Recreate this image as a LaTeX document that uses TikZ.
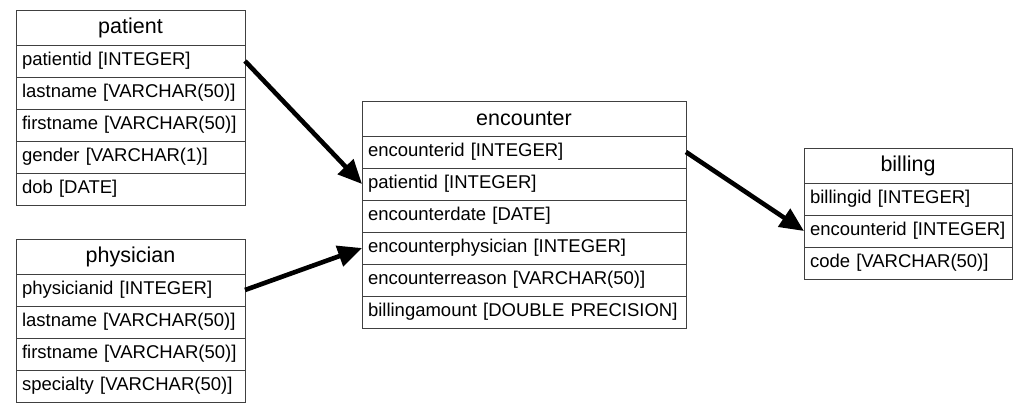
\documentclass[tikz,border=0pt]{standalone}
\usepackage{fontspec}
\setmainfont{Liberation Sans}
\usepackage{tikz}
\usetikzlibrary{positioning,arrows.meta}

\begin{document}
\begin{tikzpicture}[
  x=1pt, y=1pt,
  node distance=0pt,
  every node/.style={draw=black!75, line width=0.9pt, outer sep=0pt, inner sep=0pt},
  header/.style={minimum height=35pt, anchor=north west, font=\fontsize{21.5}{25}\selectfont},
  field/.style={minimum height=32pt, align=left, font=\fontsize{18.5}{22}\selectfont},
  patfield/.style={field, text width=217pt, inner xsep=6pt},
  encfield/.style={field, text width=312pt, inner xsep=6pt},
  billfield/.style={field, text width=196pt, inner xsep=6pt},
  relation/.style={line width=4.6pt, -{Triangle[length=24pt, width=21pt]}}
]
\useasboundingbox (0,0) rectangle (1029,-413);

% patient table
\node[header, minimum width=229pt] (patient) at (16,-10) {patient};
\node[patfield, below=of patient] (pat-id) {patientid [INTEGER]};
\node[patfield, below=of pat-id] (pat-last) {lastname [VARCHAR(50)]};
\node[patfield, below=of pat-last] (pat-first) {firstname [VARCHAR(50)]};
\node[patfield, below=of pat-first] (pat-gender) {gender [VARCHAR(1)]};
\node[patfield, below=of pat-gender] (pat-dob) {dob [DATE]};

% physician table
\node[header, minimum width=229pt] (physician) at (16,-239) {physician};
\node[patfield, below=of physician] (phy-id) {physicianid [INTEGER]};
\node[patfield, below=of phy-id] (phy-last) {lastname [VARCHAR(50)]};
\node[patfield, below=of phy-last] (phy-first) {firstname [VARCHAR(50)]};
\node[patfield, below=of phy-first] (phy-spec) {specialty [VARCHAR(50)]};

% encounter table
\node[header, minimum width=324pt] (encounter) at (362,-101) {encounter};
\node[encfield, below=of encounter] (enc-id) {encounterid [INTEGER]};
\node[encfield, below=of enc-id] (enc-pat) {patientid [INTEGER]};
\node[encfield, below=of enc-pat] (enc-date) {encounterdate [DATE]};
\node[encfield, below=of enc-date] (enc-phy) {encounterphysician [INTEGER]};
\node[encfield, below=of enc-phy] (enc-reason) {encounterreason [VARCHAR(50)]};
\node[encfield, below=of enc-reason] (enc-amount) {billingamount [DOUBLE PRECISION]};

% billing table
\node[header, minimum width=208pt] (billing) at (804,-148) {billing};
\node[billfield, below=of billing] (bill-id) {billingid [INTEGER]};
\node[billfield, below=of bill-id] (bill-enc) {encounterid [INTEGER]};
\node[billfield, below=of bill-enc] (bill-code) {code [VARCHAR(50)]};

% relations
\draw[relation] (pat-id.east) -- (enc-pat.west);
\draw[relation] (phy-id.east) -- (enc-phy.west);
\draw[relation] (enc-id.east) -- (bill-enc.west);
\end{tikzpicture}
\end{document}
